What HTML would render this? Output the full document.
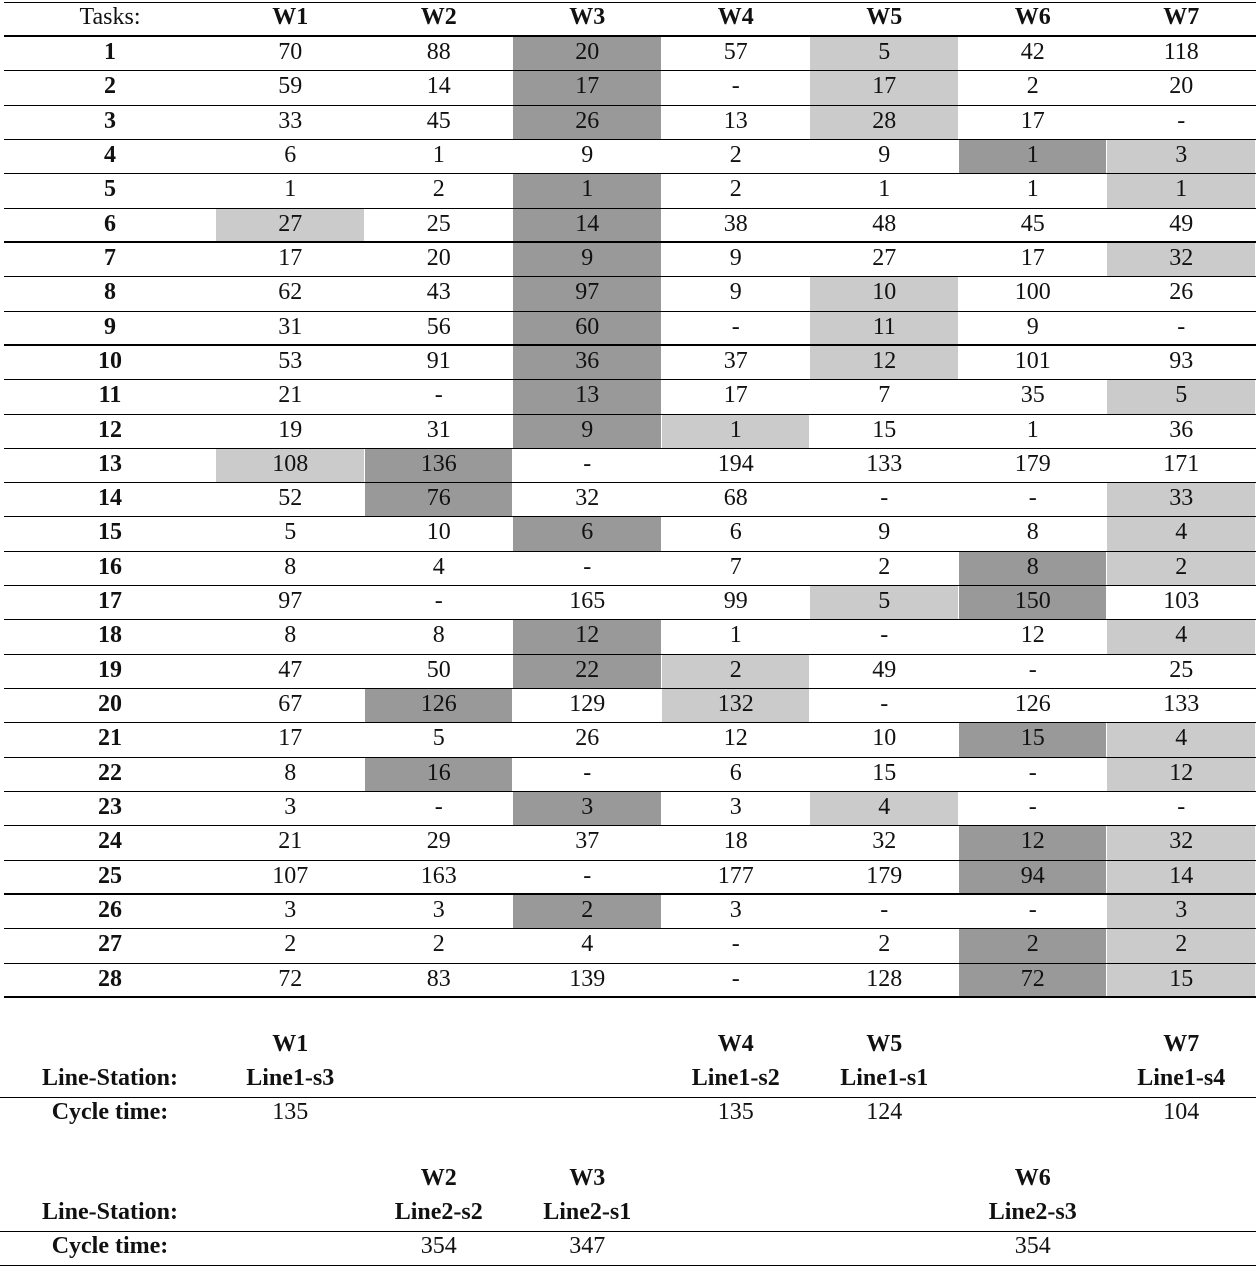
<!DOCTYPE html>
<html><head><meta charset="utf-8">
<style>
body{margin:0;background:#fff;width:1256px;height:1267px;position:relative;overflow:hidden;font-family:"Liberation Serif",serif;color:#111}
.c{position:absolute;text-align:center;font-size:24px;line-height:32px;white-space:nowrap}
.b{font-weight:bold}
.l{position:absolute;background:#000;left:4px;width:1252px;height:1px}
.s{position:absolute}
</style></head><body>
<script>
const workers=["W1","W2","W3","W4","W5","W6","W7"];
const times=[
["70","88","20","57","5","42","118"],["59","14","17","-","17","2","20"],["33","45","26","13","28","17","-"],
["6","1","9","2","9","1","3"],["1","2","1","2","1","1","1"],["27","25","14","38","48","45","49"],
["17","20","9","9","27","17","32"],["62","43","97","9","10","100","26"],["31","56","60","-","11","9","-"],
["53","91","36","37","12","101","93"],["21","-","13","17","7","35","5"],["19","31","9","1","15","1","36"],
["108","136","-","194","133","179","171"],["52","76","32","68","-","-","33"],["5","10","6","6","9","8","4"],
["8","4","-","7","2","8","2"],["97","-","165","99","5","150","103"],["8","8","12","1","-","12","4"],
["47","50","22","2","49","-","25"],["67","126","129","132","-","126","133"],["17","5","26","12","10","15","4"],
["8","16","-","6","15","-","12"],["3","-","3","3","4","-","-"],["21","29","37","18","32","12","32"],
["107","163","-","177","179","94","14"],["3","3","2","3","-","-","3"],["2","2","4","-","2","2","2"],
["72","83","139","-","128","72","15"]];
const shade=[[2,4],[2,4],[2,4],[5,6],[2,6],[2,0],[2,6],[2,4],[2,4],[2,4],[2,6],[2,3],[1,0],[1,6],[2,6],[5,6],[5,4],[2,6],[2,3],[1,3],[5,6],[1,6],[2,4],[5,6],[5,6],[2,6],[5,6],[5,6]];
const thick=[0,6,9,25,28];
const RH=34.32,TOP=36,CW=148.5,X0=216;
const cx=i=>X0+CW*i+CW/2;
function add(cls,x,y,w,h,txt,name,extra){const d=document.createElement('div');d.className=cls;d.style.left=x+'px';d.style.top=y+'px';d.style.width=w+'px';if(h!=null)d.style.height=h+'px';if(extra)d.style.cssText+=extra;if(txt!=null)d.textContent=txt;


document.body.appendChild(d);return d;}
times.forEach((r,i)=>{const y=TOP+i*RH+1;const [dk,lt]=shade[i];
add('s',X0+CW*dk,y,CW-1,RH-1,null,'dark-cell','background:#999');
add('s',X0+CW*lt,y,CW-1,RH-1,null,'light-cell','background:#cbcbcb');});
add('l',0,2,0,1,null,'top-rule','width:1252px;left:4px');
for(let i=0;i<=28;i++){const y=Math.round(TOP+i*RH);add('l',4,y-(thick.includes(i)?1:0),1252,thick.includes(i)?2:1,null,'row-rule','left:4px');}
add('c',30,1,160,32,'Tasks:','tasks-header');
workers.forEach((w,j)=>add('c b',cx(j)-70,1,140,32,w,'worker-header'));
times.forEach((r,i)=>{const y=TOP+i*RH;
add('c b',50,y,120,32,String(i+1),'task-number');
r.forEach((v,j)=>add('c',cx(j)-70,y,140,32,v,'time-cell'));});
const l1w=[0,3,4,6],l1s=["Line1-s3","Line1-s2","Line1-s1","Line1-s4"],l1c=["135","135","124","104"];
const l2w=[1,2,5],l2s=["Line2-s2","Line2-s1","Line2-s3"],l2c=["354","347","354"];
function block(y0,ws,ss,cs){
 add('c b',10,y0+34,200,32,'Line-Station:','line-station-label');
 add('c b',10,y0+68,200,32,'Cycle time:','cycle-time-label');
 ws.forEach((w,k)=>{add('c b',cx(w)-75,y0,150,32,workers[w],'worker-label');
 add('c b',cx(w)-75,y0+34,150,32,ss[k],'station-label');
 add('c',cx(w)-75,y0+68,150,32,cs[k],'cycle-time-value');});
 add('l',0,y0+69,1256,1,null,'block-rule','left:0;width:1256px');}
block(1028,l1w,l1s,l1c);
block(1162,l2w,l2s,l2c);
add('l',0,1265,1256,1,null,'bottom-rule','left:0;width:1256px');
</script>
</body></html>
